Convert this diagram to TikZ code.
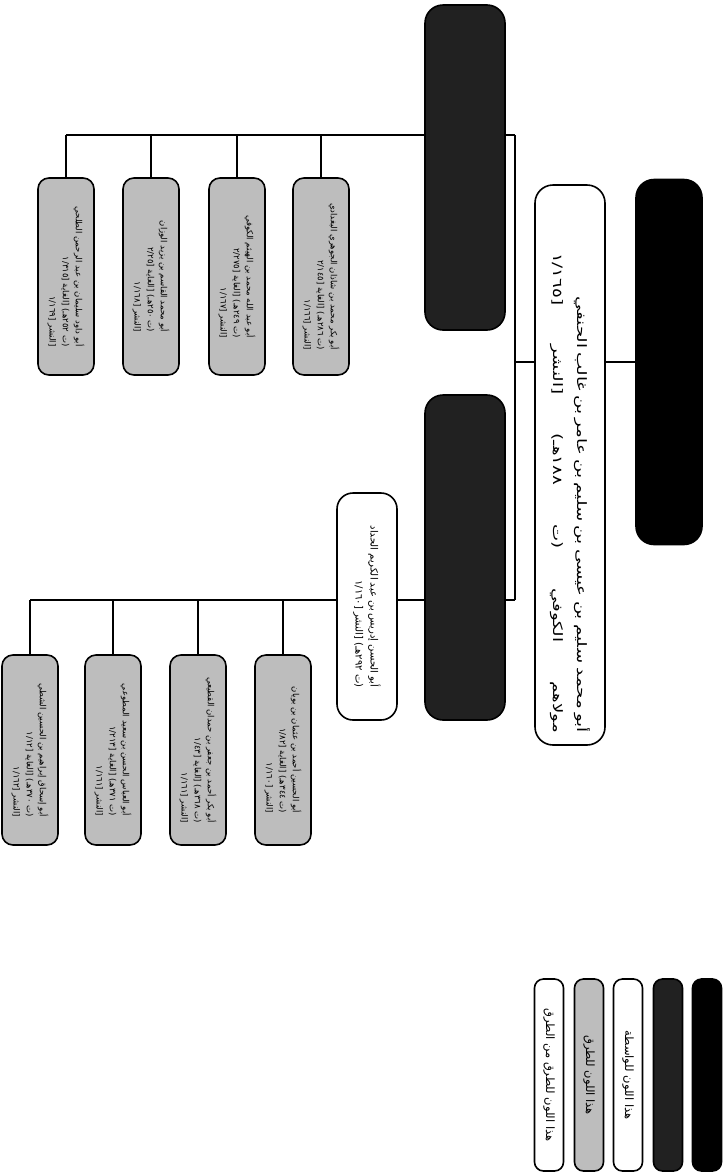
\documentclass[tikz,border=0pt]{standalone}
\usepackage{fontspec}
\usetikzlibrary{backgrounds}
\newfontfamily\arabicfont[Script=Arabic]{DejaVu Sans}
\newfontfamily\arabicwide[Script=Arabic,FakeStretch=1.4]{DejaVu Sans}
\TeXXeTstate=1
\newcommand{\AR}[1]{\beginR #1\endR}
\newcommand{\rb}[1]{\beginL[#1\endL}
\definecolor{turuqgray}{gray}{0.74}
\definecolor{darknode}{gray}{0.13}
\begin{document}
\begin{tikzpicture}[x=1pt,y=-1pt,
  rbox/.style={rotate=-90, draw=black, line width=1.6pt, inner sep=2pt,
    font=\arabicfont, align=right, fill=white},
  bigbox/.style={rbox, rounded corners=18pt},
  whitebox/.style={bigbox, fill=white},
  blackbox/.style={bigbox, fill=black},
  darkbox/.style={bigbox, fill=darknode},
  turuq/.style={rbox, rounded corners=11pt, fill=turuqgray,
    minimum height=56pt, font=\arabicfont\fontsize{8.5}{13.2}\selectfont},
  topturuq/.style={turuq, minimum width=197pt},
  botturuq/.style={turuq, minimum width=190pt},
  legend/.style={rbox, rounded corners=9pt, minimum width=192pt,
    minimum height=29pt, align=center, font=\arabicfont\fontsize{11.5}{13}\selectfont},
  conn/.style={line width=2pt, draw=black}
]
\path[use as bounding box] (0,0) rectangle (724,1176);

% main chain
\node[blackbox, minimum width=365pt, minimum height=66pt] (hamza) at (669,362) {};
\node[whitebox, minimum width=560pt, minimum height=70pt, text width=536pt,
  font=\arabicwide\fontsize{13}{24}\selectfont] (sulaym) at (570,465)
  {\AR{أبو محمد سليم بن عيسى بن سليم بن عامر بن غالب الحنفي}\\
   \leavevmode\hbox to 480pt{\beginR مولاهم\hfil{} الكوفي\hfil{} (ت\hfil{} ١٨٨هـ)\hfil{} [النشر\hfil{} \rb{١/١٦٥}\endR}};
\node[darkbox, minimum width=325pt, minimum height=80pt] (khallad) at (465,167.5) {};
\node[darkbox, minimum width=325pt, minimum height=80pt] (khalaf) at (465,557.5) {};
\node[whitebox, rounded corners=16pt, minimum width=227pt, minimum height=60pt,
  font=\arabicfont\fontsize{10}{15}\selectfont] (idris) at (367,606.5)
  {\AR{أبو الحسن إدريس بن عبد الكريم الحداد}\\
   \AR{(ت ٢٩٢هـ) [النشر \rb{١/١٦٠}}};

% top group (turuq)
\node[topturuq] (t1) at (321,276.5)
  {\AR{أبو بكر محمد بن شاذان الجوهري البغدادي}\\
   \AR{(ت ٢٨٦هـ) [الغاية \rb{٢/١٤٥}}\\
   \AR{[النشر \rb{١/١٦٦}}};
\node[topturuq] (t2) at (237,276.5)
  {\AR{أبو عبد الله محمد بن الهيثم الكوفي}\\
   \AR{(ت ٢٤٩هـ) [الغاية \rb{٢/٢٧٥}}\\
   \AR{[النشر \rb{١/١٦٧}}};
\node[topturuq] (t3) at (151,276.5)
  {\AR{أبو محمد القاسم بن يزيد الوزان}\\
   \AR{(ت ٢٥٠هـ) [الغاية \rb{٢/٢٥}}\\
   \AR{[النشر \rb{١/١٦٨}}};
\node[topturuq] (t4) at (66,276.5)
  {\AR{أبو داود سليمان بن عبد الرحمن الطلحي}\\
   \AR{(ت ٢٥٢هـ) [الغاية \rb{١/٣١٥}}\\
   \AR{[النشر \rb{١/١٦٩}}};

% bottom group (turuq)
\node[botturuq] (b1) at (283,750)
  {\AR{أبو الحسين أحمد بن عثمان بن بويان}\\
   \AR{(ت ٣٤٤هـ) [الغاية \rb{١/٨٢}}\\
   \AR{[النشر \rb{١/١٦٠}}};
\node[botturuq] (b2) at (198,750)
  {\AR{أبو بكر أحمد بن جعفر بن حمدان القطيعي}\\
   \AR{(ت ٣٦٨هـ) [الغاية \rb{١/٤٣}}\\
   \AR{[النشر \rb{١/١٦١}}};
\node[botturuq] (b3) at (113,750)
  {\AR{أبو العباس الحسن بن سعيد المطوعي}\\
   \AR{(ت ٣٧١هـ) [الغاية \rb{١/٢١٣}}\\
   \AR{[النشر \rb{١/١٦١}}};
\node[botturuq] (b4) at (30,750)
  {\AR{أبو إسحاق إبراهيم بن الحسين الشطي}\\
   \AR{(ت ٣٧٠هـ) [الغاية \rb{١/١٢}}\\
   \AR{[النشر \rb{١/١٦٢}}};

% legend
\node[legend] (l1) at (549,1075) {\AR{هذا اللون للطرق من الطرق}};
\node[legend, fill=turuqgray] (l2) at (589,1075) {\AR{هذا اللون للطرق}};
\node[legend] (l3) at (628,1075) {\AR{هذا اللون للواسطة}};
\node[legend, fill=darknode] (l4) at (668,1075) {};
\node[legend, fill=black] (l5) at (707,1075) {};

% connectors
\coordinate (jS) at (515,362);
\coordinate (jT) at (515,135);
\coordinate (jB) at (515,600);
\begin{scope}[on background layer]
  \draw[conn] (sulaym.north |- jS) -- (hamza.south);
  \draw[conn] (sulaym.south |- jS) -- (jS);
  \draw[conn] (jT) -- (jB);
  \draw[conn] (jT) -- (t4.west |- jT);
  \draw[conn] (jB) -- (b4.west |- jB);
  \foreach \n in {t1,t2,t3,t4} {\draw[conn] (\n.west |- jT) -- (\n.west);}
  \foreach \n in {b1,b2,b3,b4} {\draw[conn] (\n.west |- jB) -- (\n.west);}
\end{scope}
\end{tikzpicture}
\end{document}
